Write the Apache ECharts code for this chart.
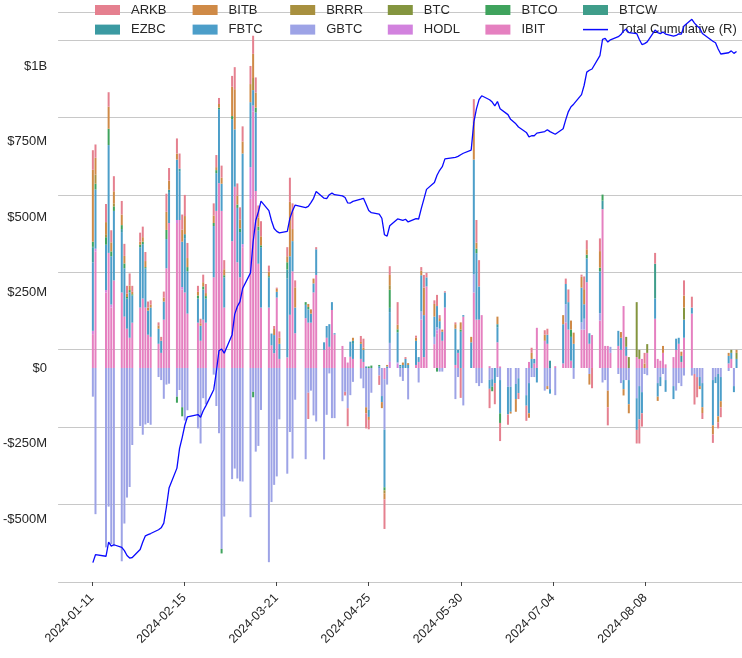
<!DOCTYPE html>
<html><head><meta charset="utf-8">
<script src="https://cdn.jsdelivr.net/npm/echarts@6/dist/echarts.min.js"></script>
<style>html,body{margin:0;padding:0;background:#fff}#c{width:742px;height:658px}</style>
</head><body><div id="c"></div>
<script>
// Trading days (categories)
const monthDays = {
  '2024-01': [11,12,16,17,18,19,22,23,24,25,26,29,30,31],
  '2024-02': [1,2,5,6,7,8,9,12,13,14,15,16,20,21,22,23,26,27,28,29],
  '2024-03': [1,4,5,6,7,8,11,12,13,14,15,18,19,20,21,22,25,26,27,28],
  '2024-04': [1,2,3,4,5,8,9,10,11,12,15,16,17,18,19,22,23,24,25,26,29,30],
  '2024-05': [1,2,3,6,7,8,9,10,13,14,15,16,17,20,21,22,23,24,28,29,30,31],
  '2024-06': [3,4,5,6,7,10,11,12,13,14,17,18,20,21,24,25,26,27,28],
  '2024-07': [1,2,3,5,8,9,10,11,12,15,16,17,18,19,22,23,24,25,26,29,30,31],
  '2024-08': [1,2,5,6,7,8,9,12,13,14,15,16,19,20,21,22,23,26,27,28,29,30],
  '2024-09': [3,4,5,6,9,10,11,12]
};
const tickLabels = ['2024-01-11','2024-02-15','2024-03-21','2024-04-25','2024-05-30','2024-07-04','2024-08-08'];
const leftTicks = [-500,-250,0,250,500,750,1000];

// Daily net flows, $M
const IBIT = [
 112,386,250,381,200,290,250,170,130,100,150,200,230,200,
 110,103,80,50,160,330,480,480,490,260,250,180,150,90,160,150,300,520,612,520,
 200,420,600,350,300,400,560,849,586,345,200,200,75,49,233,30,35,176,320,115,
 165,150,150,250,308,60,100,70,192,111,73,36,18,37,30,30,20,0,0,0,0,0,
 -37,0,0,0,0,0,0,0,10,20,160,36,270,79,115,130,90,200,10,50,0,170,
 0,250,160,160,175,6,0,0,85,5,0,0,0,0,0,20,0,15,133,
 90,80,0,6,15,151,127,24,0,127,127,284,80,109,157,526,73,73,50,73,60,205,
 40,0,36,30,30,0,50,163,30,24,50,12,36,60,80,20,100,180,0,0,0,0,
 0,0,0,0,15,30,0,0];
const FBTC = [
 227,195,150,357,160,230,200,160,100,150,90,200,180,130,
 80,97,50,40,60,97,100,200,160,150,180,140,80,50,100,80,170,125,245,90,
 100,404,190,180,150,300,215,51,260,110,200,100,39,60,19,50,261,194,100,85,
 44,44,30,30,85,25,39,75,26,4,0,0,0,50,50,50,40,5,-23,0,6,-20,
 -191,5,102,99,5,10,30,10,80,16,120,139,30,67,70,25,30,50,120,10,120,5,
 85,380,220,110,0,-30,-25,-50,50,-110,-92,-83,-50,-49,-35,-100,30,15,-48,
 0,30,-15,0,130,67,91,79,80,115,48,79,35,0,139,0,0,0,0,50,40,-30,
 30,-80,-105,-110,-70,0,0,67,-45,-30,0,-39,-43,37,20,0,60,20,0,0,-30,-80,
 -150,-20,-140,-80,25,20,-20,30];
const GBTC = [
 -95,-484,-594,-459,-583,-590,-640,-515,-429,-394,-255,-192,-221,-187,
 -182,-188,-30,-40,-102,-55,-52,-95,-73,-130,-174,-140,-200,-250,-100,-120,-22,-126,-216,-599,
 -492,-368,-333,-366,-375,-376,-494,-79,-277,-258,-139,-643,-444,-387,-359,-170,-350,-212,-300,-105,
 -302,-82,-75,-157,-177,-303,-155,-18,-166,-166,-110,-79,-133,-90,-46,-35,-67,-130,-139,-82,-25,-93,
 -167,-55,63,4,-29,-43,0,-104,0,-48,27,0,0,24,10,-12,-12,0,-103,-30,0,-124,
 0,60,-50,-60,-50,-39,-37,0,-30,-40,-62,-62,-53,-34,-90,-50,-30,-30,0,
 -75,-60,-70,-90,0,60,0,0,-36,24,36,0,-20,0,24,-48,-40,-75,20,-20,-50,-40,
 -40,-40,-100,-60,-80,-20,-24,0,-50,-30,-20,-40,-60,-75,-50,-60,-25,-25,-20,-30,-30,-50,
 -40,-30,-20,-30,-10,0,-60,0];
const ARKB = [
 65,44,60,48,40,50,45,40,25,40,20,30,35,30,
 20,14,10,13,20,60,42,50,50,50,70,50,20,15,25,30,40,40,20,40,
 30,36,73,40,40,50,60,60,50,40,50,20,0,10,4,21,30,80,85,23,
 0,-87,0,0,7,0,0,0,0,0,0,-12,-60,0,0,20,30,-50,-31,0,-31,0,
 -98,0,29,75,0,0,6,0,7,0,12,42,15,12,37,10,0,4,6,0,-99,0,
 0,73,75,87,0,-64,0,-70,0,-60,-34,0,0,-20,-50,0,17,0,0,
 15,20,0,0,0,18,42,0,0,7,42,30,0,-67,42,0,0,-60,0,0,0,0,
 0,0,-45,-80,-44,35,0,36,0,0,0,0,0,0,0,0,50,36,-101,-67,0,-20,
 -28,0,-20,-33,0,0,0,0];
const BITB = [
 238,56,40,73,30,40,35,25,12,15,8,10,15,20,
 10,10,11,0,13,60,30,20,0,40,60,30,12,8,14,10,25,10,12,20,
 20,97,133,30,30,40,60,80,50,30,30,15,0,20,10,20,20,180,40,67,
 0,10,14,16,0,0,0,0,0,0,0,0,0,0,10,6,7,-20,-10,0,0,-20,
 -20,5,34,15,0,8,0,6,10,0,15,91,0,42,0,10,7,0,15,0,24,0,
 18,127,20,0,0,0,0,0,25,0,0,-6,-42,0,0,-15,20,0,0,
 20,-10,0,0,30,0,0,30,37,36,50,18,-35,0,55,0,0,-55,0,0,19,-21,
 0,-30,0,0,0,15,0,0,-14,0,23,0,0,0,0,14,40,0,0,0,-10,-19,
 -30,0,-20,-20,10,0,0,10];
// Smaller funds: [date, $M] on days with a visible flow
const HODL = [['2024-01-11',11],['2024-01-12',9],['2024-01-16',8],['2024-01-18',10],['2024-02-12',10],['2024-02-14',8],
 ['2024-03-08',10],['2024-03-11',105],['2024-03-12',20],['2024-05-03',20],['2024-05-06',15],['2024-05-21',10]];
const BTCO = [['2024-01-11',17],['2024-01-12',18],['2024-01-16',25],['2024-01-17',54],['2024-01-18',16],['2024-01-19',15],
 ['2024-01-22',13],['2024-01-23',16],['2024-01-24',5],['2024-01-25',8],['2024-01-26',4],['2024-01-29',8],['2024-01-30',8],
 ['2024-01-31',4],['2024-02-08',30],['2024-02-12',-20],['2024-02-14',-30],['2024-02-16',14],['2024-02-20',10],['2024-02-22',10],
 ['2024-02-23',8],['2024-02-26',10],['2024-02-27',10],['2024-02-28',5],['2024-02-29',-15],['2024-03-01',7],['2024-03-04',10],
 ['2024-03-06',11],['2024-03-07',12],['2024-03-12',-18],['2024-03-13',16],['2024-03-14',13],['2024-03-15',6],['2024-03-18',4],
 ['2024-03-25',24],['2024-04-01',9],['2024-04-02',8],['2024-04-25',5],['2024-04-26',8],['2024-04-29',4],['2024-05-01',-10],
 ['2024-05-03',60],['2024-05-06',10],['2024-05-21',-12],['2024-05-30',7],['2024-06-05',15],['2024-06-11',-15],['2024-06-14',-32],
 ['2024-07-11',24],['2024-07-17',12],['2024-07-22',12],['2024-07-23',20]];
const EZBC = [['2024-01-11',50],['2024-01-22',10],['2024-02-09',10],['2024-02-13',10],['2024-02-15',13],['2024-03-25',30],
 ['2024-04-19',10],['2024-05-03',14],['2024-05-07',5],['2024-06-13',10],['2024-07-03',24],['2024-07-23',28],['2024-08-22',20]];
const BRRR = [['2024-01-12',30],['2024-01-16',10],['2024-01-19',10],['2024-03-12',40],['2024-05-01',-10],['2024-05-03',15]];
const BTCW = [['2024-01-11',1],['2024-01-12',2],['2024-08-12',115]];
const BTC  = [['2024-08-01',33],['2024-08-02',36],['2024-08-05',182],['2024-08-06',30],['2024-08-09',29],['2024-08-23',40],
 ['2024-09-10',10],['2024-09-12',20]];

const dates = [];
for (const [m, days] of Object.entries(monthDays)) for (const d of days) dates.push(m + '-' + String(d).padStart(2, '0'));
const ts = s => { const [y, m, d] = s.split('-').map(Number); return Date.UTC(y, m - 1, d); };
const expand = pairs => { const mp = new Map(pairs); return dates.map(d => mp.get(d) || 0); };
const funds = {
  ARKB: ARKB, BITB: BITB, BRRR: expand(BRRR), BTC: expand(BTC), BTCO: expand(BTCO), BTCW: expand(BTCW),
  EZBC: expand(EZBC), FBTC: FBTC, GBTC: GBTC, HODL: expand(HODL), IBIT: IBIT
};
for (const k in funds) if (funds[k].length !== dates.length) throw new Error(k + ' length ' + funds[k].length + ' vs ' + dates.length);

const colors = {ARKB:'#e5808f', BITB:'#cf8a47', BRRR:'#a8903f', BTC:'#84953f', BTCO:'#3fa35d', BTCW:'#3f9d8a',
  EZBC:'#3b9aa2', FBTC:'#4c9ec9', GBTC:'#9da3e6', HODL:'#d282de', IBIT:'#e580c0'};
const stackOrder = ['IBIT','HODL','GBTC','FBTC','EZBC','BTCW','BTCO','BTC','BRRR','BITB','ARKB'];
const legendOrder = ['ARKB','BITB','BRRR','BTC','BTCO','BTCW','EZBC','FBTC','GBTC','HODL','IBIT','Total Cumulative (R)'];

let run = 0;
const cumulative = dates.map((d, i) => { for (const k in funds) run += funds[k][i]; return [ts(d), run / 1000]; });

const DAY = 86400000, t0 = ts('2024-01-11');
const xMin = t0 - 12.86 * DAY, xMax = t0 + 246.7 * DAY;
const FONT = 'Liberation Sans, Arial, sans-serif';
const series = stackOrder.map(name => ({
  name, type: 'bar', stack: 'flows', xAxisIndex: 0, yAxisIndex: 0, barWidth: 2,
  itemStyle: {color: colors[name]}, emphasis: {disabled: true},
  data: dates.map((d, i) => [ts(d), funds[name][i]])
}));
series.push({name: 'Total Cumulative (R)', type: 'line', xAxisIndex: 0, yAxisIndex: 1, data: cumulative, showSymbol: false, symbol: 'none',
  lineStyle: {color: '#0a0aff', width: 1.3}, itemStyle: {color: '#0a0aff'}, z: 5, emphasis: {disabled: true}});

const legends = legendOrder.map((name, i) => {
  const col = i % 6, row = Math.floor(i / 6);
  const isLine = name.startsWith('Total');
  return {data: [{name, icon: 'rect'}], left: 95 + 97.6 * col, top: row === 0 ? 3 : 22.6, padding: 0,
    itemWidth: 25, itemHeight: isLine ? 1.5 : 10, selectedMode: false,
    textStyle: {fontFamily: FONT, fontSize: 13, color: '#262626', lineHeight: 14, padding: [0, 0, 0, 6]}};
});

const fmtMoney = v => { if (v === 0) return '$0'; const a = Math.abs(v); const s = a >= 1000 ? '$' + (a / 1000) + 'B' : '$' + a + 'M'; return (v < 0 ? '-' : '') + s; };

const chart = echarts.init(document.getElementById('c'), null, {renderer: 'canvas'});
chart.setOption({
  animation: false,
  backgroundColor: '#ffffff',
  legend: legends,
  grid: {left: 56, right: 0, top: 12, bottom: 76, containLabel: false},
  xAxis: [
    {type: 'time', min: xMin, max: xMax, position: 'bottom',
     splitLine: {show: false}, axisLine: {show: false}, axisTick: {show: false}, axisLabel: {show: false}},
    {type: 'value', min: xMin, max: xMax, position: 'bottom',
     splitLine: {show: false}, axisLine: {show: false},
     axisTick: {show: true, length: 4, lineStyle: {color: '#444'}, customValues: tickLabels.map(ts)},
     axisLabel: {customValues: tickLabels.map(ts), rotate: 45, margin: 14, fontFamily: FONT, fontSize: 12.5, color: '#262626',
       formatter: v => new Date(v).toISOString().slice(0, 10)}}
  ],
  yAxis: [
    {type: 'value', min: -708.6, max: 1178.6, splitLine: {show: false}, axisLine: {show: false}, axisTick: {show: false},
     axisLabel: {customValues: leftTicks, margin: 11, fontFamily: FONT, fontSize: 13, color: '#262626', formatter: fmtMoney}},
    {type: 'value', min: 0, max: 18.404, interval: 2.5, position: 'right',
     splitLine: {show: true, lineStyle: {color: '#c8c8c8', width: 1}}, axisLine: {show: false}, axisTick: {show: false},
     axisLabel: {show: false}}
  ],
  series
});
</script></body></html>
